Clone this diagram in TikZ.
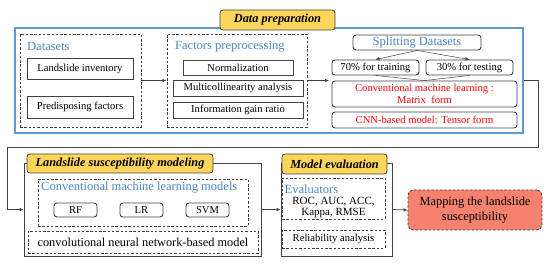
\documentclass[tikz,border=0pt]{standalone}
\usepackage{fontspec}
\setmainfont{Liberation Serif}
\usetikzlibrary{arrows.meta,positioning,calc}
\definecolor{prepblue}{HTML}{5B9BD5}
\definecolor{headblue}{HTML}{4A86C8}
\definecolor{tabyellow}{HTML}{FCD65B}
\definecolor{mapred}{HTML}{F4826E}
\definecolor{boxgray}{HTML}{404040}
\tikzset{
  txt/.style={font=\fontsize{10.6}{12.5}\selectfont},
  head/.style={font=\fontsize{12.5}{14}\selectfont,text=headblue,anchor=west,inner sep=0pt},
  plainbox/.style={draw=boxgray,line width=0.9pt,txt,inner sep=0pt},
  roundbox/.style={plainbox,rounded corners=3pt},
  dashbox/.style={draw=boxgray,line width=0.9pt,dash pattern=on 2.5pt off 1.8pt},
  tabbox/.style={draw=boxgray,line width=0.8pt,fill=tabyellow,rounded corners=3pt,
    font=\fontsize{12.3}{14}\selectfont\bfseries\itshape},
  flow/.style={-{Latex[length=4pt,width=3.5pt]},line width=0.7pt,draw=boxgray}
}
\begin{document}
\begin{tikzpicture}[x=1pt,y=-1pt]
  \useasboundingbox (0,0) rectangle (550,267);
  % data preparation
  \node[draw=prepblue,line width=1.2pt,minimum width=508pt,minimum height=105pt] (prep) at (269,80.5) {};
  \node[tabbox,minimum width=115pt,minimum height=20pt] (preptab) at (277.5,20) {Data preparation};
  \node[dashbox,minimum width=121pt,minimum height=93pt] (datasets) at (80.5,80.5) {};
  \node[head] (datahead) at (27,46) {Datasets};
  \node[plainbox,minimum width=106pt,minimum height=21pt] (inventory) at (80,68.5) {Landslide inventory};
  \node[plainbox,minimum width=106pt,minimum height=22pt] (predisp) at (80,107) {Predisposing factors};
  \node[dashbox,minimum width=140pt,minimum height=93pt] (factors) at (237,80.5) {};
  \node[head] (facthead) at (175,47) {Factors preprocessing};
  \node[plainbox,minimum width=110pt,minimum height=15pt] (norm) at (238,67.5) {Normalization};
  \node[plainbox,minimum width=130pt,minimum height=16pt] (multi) at (238,88) {Multicollinearity analysis};
  \node[plainbox,minimum width=130pt,minimum height=16pt] (infogain) at (238,110) {Information gain ratio};
  \coordinate (splitin) at (329,80.5);
  \node[roundbox,minimum width=128pt,minimum height=15pt,font=\fontsize{12.5}{14}\selectfont,text=headblue] (split) at (417,42.5) {Splitting Datasets};
  \node[roundbox,minimum width=87pt,minimum height=15pt] (train) at (375.5,67.5) {70\% for training};
  \node[roundbox,minimum width=87pt,minimum height=15pt] (test) at (469.5,67.5) {30\% for testing};
  \node[roundbox,minimum width=185pt,minimum height=26pt,align=center,text=red] (convform) at (424.5,94) {Conventional machine learning :\\Matrix~~form};
  \node[roundbox,minimum width=185pt,minimum height=16pt,text=red] (cnnform) at (424.5,120) {CNN-based model: Tensor form};
  \draw[flow] (datasets.east) -- (factors.west);
  \draw[flow] (factors.east) -- (splitin);
  \draw[flow,line width=0.5pt] (split.south) -- (train.north);
  \draw[flow,line width=0.5pt] (split.south) -- (test.north);
  \draw[line width=0.5pt,boxgray] (train.south) -- (convform.north) -- (test.south);
  % modeling
  \node[draw=boxgray,line width=0.9pt,minimum width=237pt,minimum height=93pt] (model) at (142.5,209.5) {};
  \node[tabbox,minimum width=186pt,minimum height=19pt] (modeltab) at (120,163.5) {Landslide susceptibility modeling};
  \node[dashbox,minimum width=210pt,minimum height=47pt] (cml) at (143,202.5) {};
  \node[head] (cmlhead) at (41,188) {Conventional machine learning models};
  \node[roundbox,minimum width=43pt,minimum height=14pt] (rf) at (75.5,210) {RF};
  \node[roundbox,minimum width=43pt,minimum height=14pt] (lr) at (141.5,210) {LR};
  \node[roundbox,minimum width=43pt,minimum height=14pt] (svm) at (207.5,210) {SVM};
  \node[dashbox,minimum width=230pt,minimum height=22pt,font=\fontsize{12.3}{14}\selectfont] (cnnmodel) at (143,242) {convolutional neural network-based model};
  % evaluation
  \node[draw=boxgray,line width=0.9pt,minimum width=111pt,minimum height=93pt] (eval) at (336.5,209.5) {};
  \node[tabbox,minimum width=105pt,minimum height=20pt] (evaltab) at (334.5,164) {Model evaluation};
  \node[dashbox,minimum width=103pt,minimum height=41pt] (evaluators) at (333.5,198.5) {};
  \node[head] (evalhead) at (284.5,189.5) {Evaluators};
  \node[txt,align=center,font=\fontsize{11}{11.5}\selectfont,inner sep=0pt] (metrics) at (333.5,207.5) {ROC, AUC, ACC,\\Kappa, RMSE};
  \node[dashbox,txt,minimum width=103pt,minimum height=18pt] (reliab) at (333.5,239) {Reliability analysis};
  \node[dashbox,rounded corners=5pt,fill=mapred,minimum width=134pt,minimum height=40pt,align=center,
    font=\fontsize{12.4}{15}\selectfont] (mapping) at (475,210) {Mapping the landslide\\susceptibility};
  \draw[flow] (prep.east) -- ++(15,0) |- (7,147) |- (model.west);
  \draw[flow] (model.east) -- (eval.west);
  \draw[flow] (eval.east) -- (mapping.west);
\end{tikzpicture}
\end{document}
